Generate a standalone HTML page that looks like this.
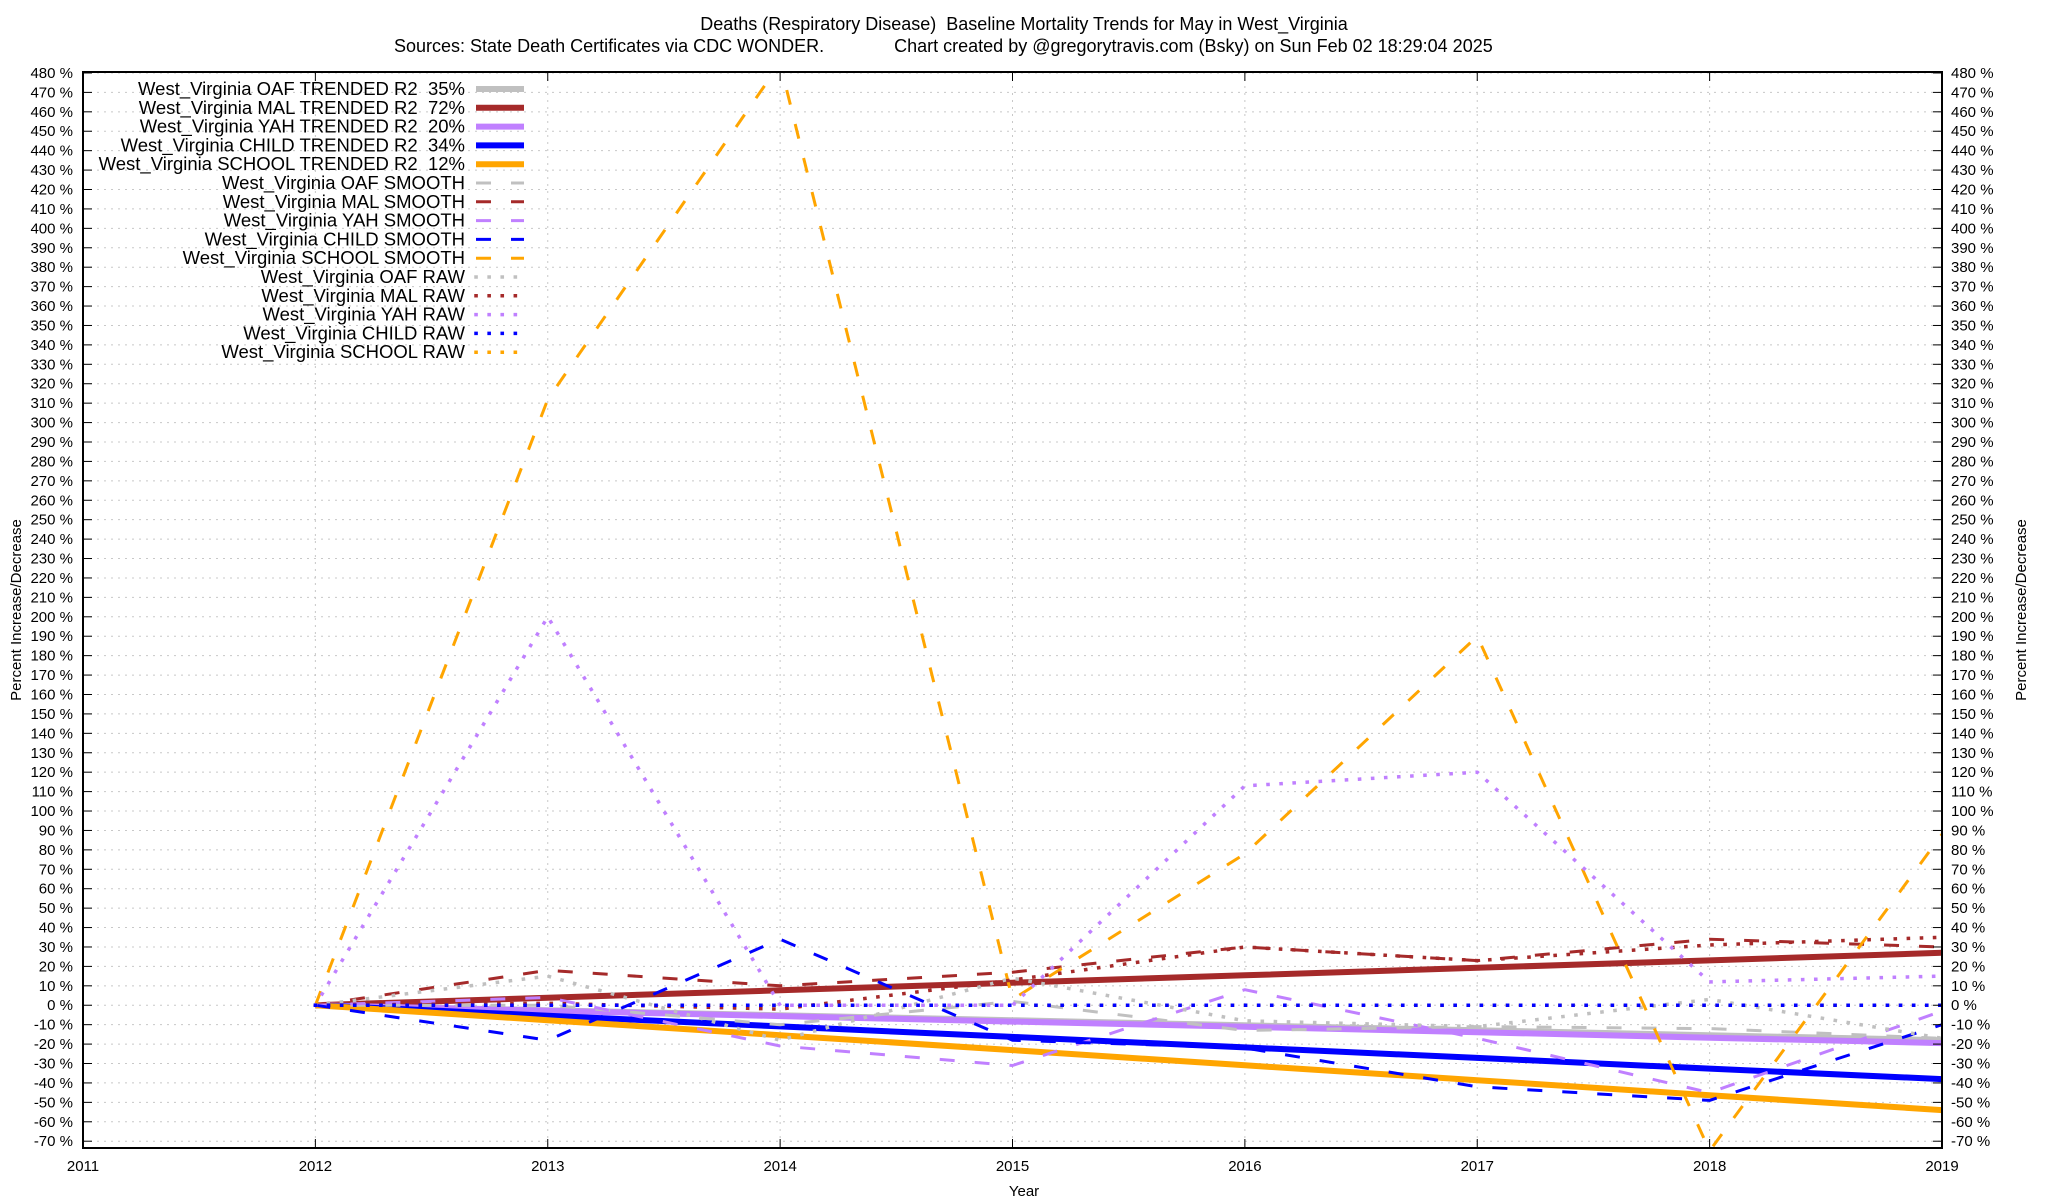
<!DOCTYPE html>
<html><head><meta charset="utf-8"><style>
html,body{margin:0;padding:0;background:#fff}
svg{display:block;font-family:"Liberation Sans",sans-serif}
</style></head><body>
<svg id="chart" width="2048" height="1200" viewBox="0 0 2048 1200" xmlns="http://www.w3.org/2000/svg">
<rect width="2048" height="1200" fill="#fff"/>
<text x="1024" y="30" font-size="18" text-anchor="middle" xml:space="preserve">Deaths (Respiratory Disease)  Baseline Mortality Trends for May in West_Virginia</text>
<text x="394" y="52" font-size="18" xml:space="preserve">Sources: State Death Certificates via CDC WONDER.              Chart created by @gregorytravis.com (Bsky) on Sun Feb 02 18:29:04 2025</text>
<g id="grid"></g>
<g id="series"></g>
<rect x="83" y="72" width="1859" height="1076" fill="none" stroke="#000" stroke-width="2"/>
<g id="axes"></g>
<g id="legend"></g>
<text x="1024" y="1196" font-size="15" text-anchor="middle">Year</text>
<text transform="translate(21,610) rotate(-90)" font-size="15" text-anchor="middle">Percent Increase/Decrease</text>
<text transform="translate(2026,610) rotate(-90)" font-size="15" text-anchor="middle">Percent Increase/Decrease</text>
</svg>
<script>
const years = [2012, 2013, 2014, 2015, 2016, 2017, 2018, 2019];
const xTickLabels = [2011, 2012, 2013, 2014, 2015, 2016, 2017, 2018, 2019];
const yTickValues = [-70,-60,-50,-40,-30,-20,-10,0,10,20,30,40,50,60,70,80,90,100,110,120,130,140,150,160,170,180,190,200,210,220,230,240,250,260,270,280,290,300,310,320,330,340,350,360,370,380,390,400,410,420,430,440,450,460,470,480];
const oafTrend = [0, -2.6, -5.1, -7.7, -10.3, -12.9, -15.4, -18];
const malTrend = [0, 3.9, 7.7, 11.6, 15.4, 19.3, 23.1, 27];
const yahTrend = [0, -2.8, -5.6, -8.4, -11.1, -13.9, -16.7, -19.5];
const childTrend = [0, -5.4, -10.9, -16.3, -21.7, -27.1, -32.6, -38];
const schoolTrend = [0, -7.7, -15.4, -23.1, -30.9, -38.6, -46.3, -54];
const oafSmooth = [0, 0, -10, 2, -13, -11, -12, -17];
const malSmooth = [0, 18, 10, 17, 30, 23, 34, 30];
const yahSmooth = [0, 4, -21, -31, 8, -17, -45, -3];
const childSmooth = [0, -18, 34, -18, -22, -42, -49, -10];
const schoolSmooth = [0, 312, 485, 3, 78, 190, -75, 88];
const oafRaw = [0, 15, -18, 14, -8, -11, 3, -17];
const malRaw = [0, 1, -2, 13, 30, 23, 31, 35];
const yahRaw = [0, 200, 0, 0, 113, 120, 12, 15];
const childRaw = [0, 0, 0, 0, 0, 0, 0, 0];
const schoolRaw = [0, 0, 0, 0, 0, 0, 0, 0];

const NS = "http://www.w3.org/2000/svg";
const L = 83, R = 1942, T = 72, B = 1148;
const XMIN = 2011, XMAX = 2019, YMIN = -73.5, YMAX = 480.5;
function xs(v){ return L + (v - XMIN) / (XMAX - XMIN) * (R - L); }
function ys(v){ return B - (v - YMIN) / (YMAX - YMIN) * (B - T); }
function mk(tag, attrs, parent){ const e = document.createElementNS(NS, tag); for (const k in attrs) e.setAttribute(k, attrs[k]); parent.appendChild(e); return e; }

const grid = document.getElementById('grid');
const axes = document.getElementById('axes');
yTickValues.forEach(v => {
  const y = ys(v);
  const gl = mk('line', {x1:L, x2:R, y1:y, y2:y, stroke:'#c8c8c8', 'stroke-width':1, 'stroke-dasharray':'2,5'}, grid);
  
  
  const t1 = mk('line', {x1:L, x2:L+9, y1:y, y2:y, stroke:'#000', 'stroke-width':1}, axes);
  
  
  const t2 = mk('line', {x1:R-9, x2:R, y1:y, y2:y, stroke:'#000', 'stroke-width':1}, axes);
  
  
  const lb = mk('text', {x:L-10, y:y+5, 'font-size':15, 'text-anchor':'end'}, axes);
  lb.textContent = v + ' %';
  
  
  const rb = mk('text', {x:R+9, y:y+5, 'font-size':15, 'text-anchor':'start'}, axes);
  rb.textContent = v + ' %';
  
  
});
xTickLabels.forEach(v => {
  const x = xs(v);
  const gl = mk('line', {x1:x, x2:x, y1:T, y2:B, stroke:'#c8c8c8', 'stroke-width':1, 'stroke-dasharray':'2,5'}, grid);
  
  
  const t1 = mk('line', {x1:x, x2:x, y1:B-9, y2:B, stroke:'#000', 'stroke-width':1}, axes);
  
  
  const t2 = mk('line', {x1:x, x2:x, y1:T, y2:T+9, stroke:'#000', 'stroke-width':1}, axes);
  
  
  const lb = mk('text', {x:x, y:1171, 'font-size':15, 'text-anchor':'middle'}, axes);
  lb.textContent = v;
  
  
});

const GRAY = '#c0c0c0', MAL = '#a52a2a', YAH = '#c080ff', CHILD = '#0000ff', SCHOOL = '#ffa500';
const trendStyle = {w:6, dash:null, cap:'butt'};
const smoothStyle = {w:3, dash:'15,20', cap:'butt'};
const rawStyle = {w:3.5, dash:'0.1,13', cap:'square'};
const seriesDefs = [
  {name:'West_Virginia OAF TRENDED R2  35%', data:oafTrend, color:GRAY, st:trendStyle, id:'oaf-trended-line', z:0},
  {name:'West_Virginia MAL TRENDED R2  72%', data:malTrend, color:MAL, st:trendStyle, id:'mal-trended-line', z:1},
  {name:'West_Virginia YAH TRENDED R2  20%', data:yahTrend, color:YAH, st:trendStyle, id:'yah-trended-line', z:2},
  {name:'West_Virginia CHILD TRENDED R2  34%', data:childTrend, color:CHILD, st:trendStyle, id:'child-trended-line', z:3},
  {name:'West_Virginia SCHOOL TRENDED R2  12%', data:schoolTrend, color:SCHOOL, st:trendStyle, id:'school-trended-line', z:4},
  {name:'West_Virginia OAF SMOOTH', data:oafSmooth, color:GRAY, st:smoothStyle, id:'oaf-smooth-line', z:5},
  {name:'West_Virginia MAL SMOOTH', data:malSmooth, color:MAL, st:smoothStyle, id:'mal-smooth-line', z:6},
  {name:'West_Virginia YAH SMOOTH', data:yahSmooth, color:YAH, st:smoothStyle, id:'yah-smooth-line', z:7},
  {name:'West_Virginia CHILD SMOOTH', data:childSmooth, color:CHILD, st:smoothStyle, id:'child-smooth-line', z:8},
  {name:'West_Virginia SCHOOL SMOOTH', data:schoolSmooth, color:SCHOOL, st:smoothStyle, id:'school-smooth-line', z:9},
  {name:'West_Virginia OAF RAW', data:oafRaw, color:GRAY, st:rawStyle, id:'oaf-raw-line', z:11},
  {name:'West_Virginia MAL RAW', data:malRaw, color:MAL, st:rawStyle, id:'mal-raw-line', z:12},
  {name:'West_Virginia YAH RAW', data:yahRaw, color:YAH, st:rawStyle, id:'yah-raw-line', z:13},
  {name:'West_Virginia CHILD RAW', data:childRaw, color:CHILD, st:rawStyle, id:'child-raw-line', z:14},
  {name:'West_Virginia SCHOOL RAW', data:schoolRaw, color:SCHOOL, st:rawStyle, id:'school-raw-line', z:10}
];

const series = document.getElementById('series');
const clip = mk('clipPath', {id:'plotclip'}, mk('defs', {}, document.getElementById('chart')));
mk('rect', {x:L, y:T, width:R-L, height:B-T}, clip);
series.setAttribute('clip-path', 'url(#plotclip)');
const legend = document.getElementById('legend');
seriesDefs.forEach((s, i) => {
  const ly = 89 + i * 18.8;
  const lt = mk('text', {x:465, y:ly + 6, 'font-size':18.5, 'text-anchor':'end'}, legend);
  lt.setAttribute('xml:space', 'preserve');
  lt.style.whiteSpace = 'pre';
  lt.textContent = s.name;
  
  
  const la = {x1:476, x2:524, y1:ly, y2:ly, stroke:s.color, 'stroke-width':s.st.w, 'stroke-linecap':s.st.cap};
  if (s.st.dash) la['stroke-dasharray'] = s.st.dash;
  const ls = mk('line', la, legend);
  
  
});
seriesDefs.slice().sort((a, b) => a.z - b.z).forEach(s => {
  const pts = s.data.map((v, j) => xs(years[j]).toFixed(1) + ',' + ys(v).toFixed(1)).join(' ');
  const attrs = {points:pts, fill:'none', stroke:s.color, 'stroke-width':s.st.w, 'stroke-linecap':s.st.cap, 'stroke-linejoin':'round'};
  if (s.st.dash) attrs['stroke-dasharray'] = s.st.dash;
  const pl = mk('polyline', attrs, series);
  
  
});
</script>
</body></html>
